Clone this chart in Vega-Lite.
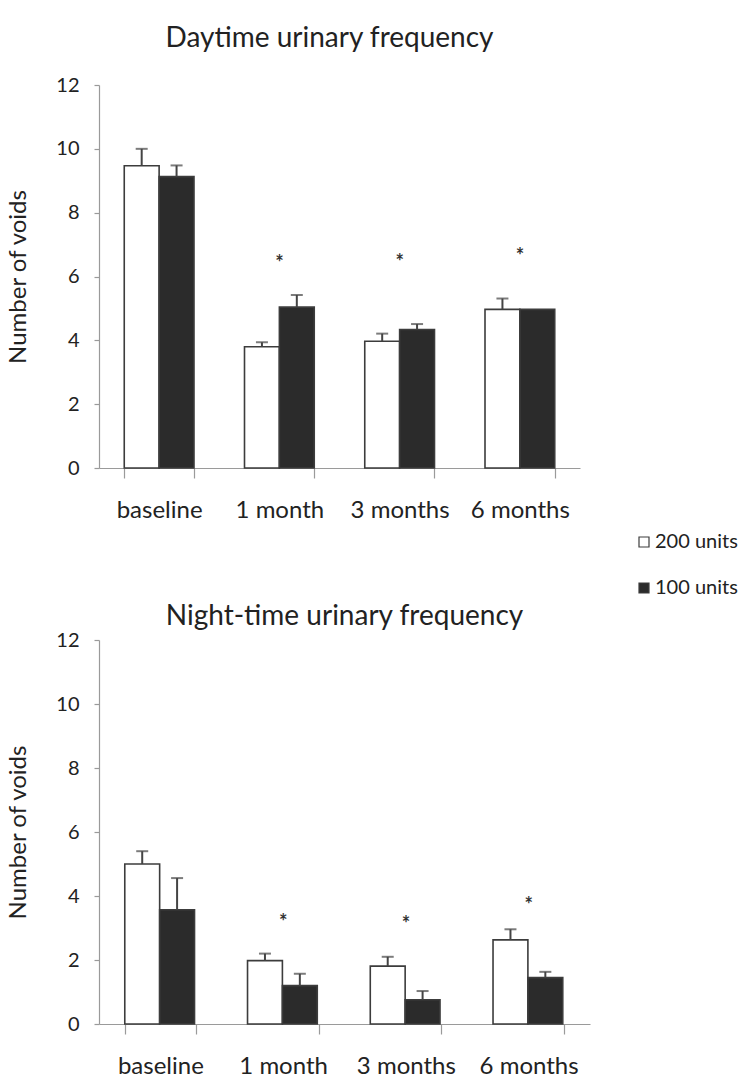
{
  "$schema": "https://vega.github.io/schema/vega-lite/v6.json",
  "background": "white",
  "padding": {"top": 25, "left": 6, "right": 0, "bottom": 0},
  "spacing": 81,
  "config": {
    "font": "Lato",
    "view": {"stroke": null},
    "title": {"font": "Lato", "fontSize": 28, "fontWeight": "normal", "color": "#222", "anchor": "middle"},
    "axis": {
      "labelFont": "Lato", "labelColor": "#222",
      "titleFont": "Lato", "titleFontWeight": "normal", "titleColor": "#222",
      "domainColor": "#9a9a9a", "tickColor": "#9a9a9a", "domainWidth": 1.2, "tickWidth": 1.2, "grid": false
    },
    "axisX": {"labelFontSize": 24, "labelAngle": 0, "tickBand": "extent", "tickSize": 10, "labelPadding": 20, "title": null},
    "axisY": {"labelFontSize": 20, "tickSize": 5, "labelPadding": 15, "titleFontSize": 24, "titlePadding": 25},
    "legend": {"labelFont": "Lato", "labelFontSize": 20, "labelColor": "#222"}
  },
  "datasets": {
    "day": [
      {"period": "baseline", "dose": "200 units", "mean": 9.47, "sem": 0.53},
      {"period": "baseline", "dose": "100 units", "mean": 9.13, "sem": 0.35},
      {"period": "1 month", "dose": "200 units", "mean": 3.8, "sem": 0.14},
      {"period": "1 month", "dose": "100 units", "mean": 5.04, "sem": 0.38},
      {"period": "3 months", "dose": "200 units", "mean": 3.97, "sem": 0.24},
      {"period": "3 months", "dose": "100 units", "mean": 4.34, "sem": 0.17},
      {"period": "6 months", "dose": "200 units", "mean": 4.97, "sem": 0.34},
      {"period": "6 months", "dose": "100 units", "mean": 4.97, "sem": 0.0}
    ],
    "day_sig": [
      {"period": "1 month", "y": 6.59},
      {"period": "3 months", "y": 6.62},
      {"period": "6 months", "y": 6.81}
    ],
    "night": [
      {"period": "baseline", "dose": "200 units", "mean": 5.0, "sem": 0.4},
      {"period": "baseline", "dose": "100 units", "mean": 3.57, "sem": 0.99},
      {"period": "1 month", "dose": "200 units", "mean": 1.98, "sem": 0.22},
      {"period": "1 month", "dose": "100 units", "mean": 1.2, "sem": 0.37},
      {"period": "3 months", "dose": "200 units", "mean": 1.81, "sem": 0.29},
      {"period": "3 months", "dose": "100 units", "mean": 0.76, "sem": 0.27},
      {"period": "6 months", "dose": "200 units", "mean": 2.63, "sem": 0.33},
      {"period": "6 months", "dose": "100 units", "mean": 1.45, "sem": 0.18}
    ],
    "night_sig": [
      {"period": "1 month", "y": 3.35},
      {"period": "3 months", "y": 3.27},
      {"period": "6 months", "y": 3.88}
    ]
  },
  "vconcat": [
    {
      "title": {"text": "Daytime urinary frequency", "offset": 22, "dx": -10},
      "width": 481,
      "height": 383,
      "layer": [
        {
          "data": {"name": "day"},
          "mark": {"type": "bar", "stroke": "#3c3c3c", "strokeWidth": 1.6},
          "encoding": {
            "x": {"field": "period", "type": "nominal", "sort": ["baseline", "1 month", "3 months", "6 months"],
                  "scale": {"paddingInner": 0.42, "paddingOuter": 0.21}},
            "xOffset": {"field": "dose", "type": "nominal", "sort": ["200 units", "100 units"], "scale": {"paddingInner": 0, "paddingOuter": 0}},
            "y": {"field": "mean", "type": "quantitative", "scale": {"domain": [0, 12]},
                  "axis": {"title": "Number of voids", "values": [0, 2, 4, 6, 8, 10, 12]}},
            "fill": {"field": "dose", "type": "nominal", "sort": ["200 units", "100 units"],
                     "scale": {"domain": ["200 units", "100 units"], "range": ["#ffffff", "#2b2b2b"]},
                     "legend": {"title": null, "orient": "none", "legendX": 535, "legendY": 447, "symbolType": "square",
                                "symbolSize": 100, "symbolStrokeColor": "#333", "symbolStrokeWidth": 1.2, "rowPadding": 26, "labelOffset": 1}}
          }
        },
        {
          "data": {"name": "day"},
          "transform": [{"calculate": "datum.mean + datum.sem", "as": "upper"}],
          "mark": {"type": "rule", "color": "#444", "strokeWidth": 2},
          "encoding": {
            "x": {"field": "period", "type": "nominal", "sort": ["baseline", "1 month", "3 months", "6 months"]},
            "xOffset": {"field": "dose", "type": "nominal", "sort": ["200 units", "100 units"]},
            "y": {"field": "mean", "type": "quantitative"},
            "y2": {"field": "upper"}
          }
        },
        {
          "data": {"name": "day"},
          "transform": [{"calculate": "datum.mean + datum.sem", "as": "upper"}, {"filter": "datum.sem > 0"}],
          "mark": {"type": "tick", "color": "#444", "thickness": 2, "size": 12, "orient": "horizontal"},
          "encoding": {
            "x": {"field": "period", "type": "nominal", "sort": ["baseline", "1 month", "3 months", "6 months"]},
            "xOffset": {"field": "dose", "type": "nominal", "sort": ["200 units", "100 units"]},
            "y": {"field": "upper", "type": "quantitative"}
          }
        },
        {
          "data": {"name": "day_sig"},
          "mark": {"type": "text", "text": "*", "fontSize": 20, "fontWeight": "bold", "color": "#333", "baseline": "middle", "dy": 6},
          "encoding": {
            "x": {"field": "period", "type": "nominal", "sort": ["baseline", "1 month", "3 months", "6 months"]},
            "y": {"field": "y", "type": "quantitative"}
          }
        }
      ]
    },
    {
      "title": {"text": "Night-time urinary frequency", "offset": -1},
      "width": 491,
      "height": 384,
      "layer": [
        {
          "data": {"name": "night"},
          "mark": {"type": "bar", "stroke": "#3c3c3c", "strokeWidth": 1.6},
          "encoding": {
            "x": {"field": "period", "type": "nominal", "sort": ["baseline", "1 month", "3 months", "6 months"],
                  "scale": {"paddingInner": 0.42, "paddingOuter": 0.21}},
            "xOffset": {"field": "dose", "type": "nominal", "sort": ["200 units", "100 units"], "scale": {"paddingInner": 0, "paddingOuter": 0}},
            "y": {"field": "mean", "type": "quantitative", "scale": {"domain": [0, 12]},
                  "axis": {"title": "Number of voids", "values": [0, 2, 4, 6, 8, 10, 12]}},
            "fill": {"field": "dose", "type": "nominal", "sort": ["200 units", "100 units"],
                     "scale": {"domain": ["200 units", "100 units"], "range": ["#ffffff", "#2b2b2b"]}}
          }
        },
        {
          "data": {"name": "night"},
          "transform": [{"calculate": "datum.mean + datum.sem", "as": "upper"}],
          "mark": {"type": "rule", "color": "#444", "strokeWidth": 2},
          "encoding": {
            "x": {"field": "period", "type": "nominal", "sort": ["baseline", "1 month", "3 months", "6 months"]},
            "xOffset": {"field": "dose", "type": "nominal", "sort": ["200 units", "100 units"]},
            "y": {"field": "mean", "type": "quantitative"},
            "y2": {"field": "upper"}
          }
        },
        {
          "data": {"name": "night"},
          "transform": [{"calculate": "datum.mean + datum.sem", "as": "upper"}, {"filter": "datum.sem > 0"}],
          "mark": {"type": "tick", "color": "#444", "thickness": 2, "size": 12, "orient": "horizontal"},
          "encoding": {
            "x": {"field": "period", "type": "nominal", "sort": ["baseline", "1 month", "3 months", "6 months"]},
            "xOffset": {"field": "dose", "type": "nominal", "sort": ["200 units", "100 units"]},
            "y": {"field": "upper", "type": "quantitative"}
          }
        },
        {
          "data": {"name": "night_sig"},
          "mark": {"type": "text", "text": "*", "fontSize": 20, "fontWeight": "bold", "color": "#333", "baseline": "middle", "dy": 6},
          "encoding": {
            "x": {"field": "period", "type": "nominal", "sort": ["baseline", "1 month", "3 months", "6 months"]},
            "y": {"field": "y", "type": "quantitative"}
          }
        }
      ]
    }
  ]
}
